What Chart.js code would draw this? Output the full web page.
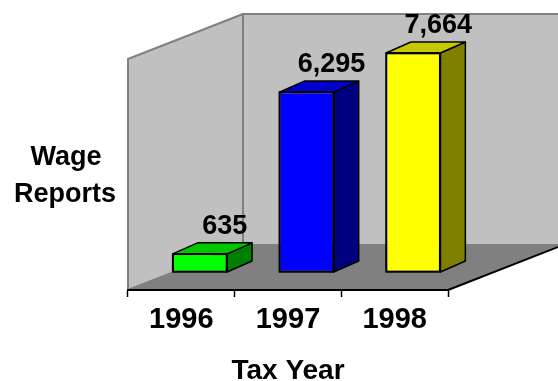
<!DOCTYPE html>
<html>
<head>
<meta charset="utf-8">
<script src="https://cdn.jsdelivr.net/npm/chart.js@4.4.0/dist/chart.umd.min.js"></script>
<style>
    html, body { margin: 0; padding: 0; background: #fff; }
</style>
</head>
<body>
<canvas id="chart" width="558" height="381"></canvas>
<script>
// data
const years = ['1996', '1997', '1998'];
const wageReports = [635, 6295, 7664];
const yTitleLines = ['Wage', 'Reports'];
const xTitle = 'Tax Year';

// face colours per bar
const frontColors = ['#00ff00', '#0000ff', '#ffff00'];
const topColors = ['#00c800', '#0000c8', '#c8c800'];
const sideColors = ['#008000', '#000080', '#808000'];

// fake 3D geometry
const WALL_DX = 115, WALL_DY = -45;   // depth of the box
const BAR_SHIFT = 18.5;               // bars sit a little into the box
const BAR_DX = 25, BAR_DY = -11;      // depth of a bar
const FONT = '"Liberation Sans", Arial, sans-serif';

function poly(ctx, pts) {
    ctx.beginPath();
    ctx.moveTo(pts[0][0], pts[0][1]);
    for (let i = 1; i < pts.length; i++) ctx.lineTo(pts[i][0], pts[i][1]);
    ctx.closePath();
}

const box3d = {
    id: 'box3d',
    beforeDraw(chart) {
        const { ctx, chartArea: a } = chart;
        ctx.save();
        ctx.lineJoin = 'round';
        ctx.lineWidth = 2;
        ctx.strokeStyle = '#808080';
        ctx.fillStyle = '#c0c0c0';
        // back wall
        poly(ctx, [[a.left + WALL_DX, a.top + WALL_DY], [a.right + WALL_DX, a.top + WALL_DY],
            [a.right + WALL_DX, a.bottom + WALL_DY], [a.left + WALL_DX, a.bottom + WALL_DY]]);
        ctx.fill(); ctx.stroke();
        // left wall
        poly(ctx, [[a.left, a.top], [a.left + WALL_DX, a.top + WALL_DY],
            [a.left + WALL_DX, a.bottom + WALL_DY], [a.left, a.bottom]]);
        ctx.fill(); ctx.stroke();
        // floor
        ctx.fillStyle = '#808080';
        poly(ctx, [[a.left, a.bottom], [a.right, a.bottom],
            [a.right + WALL_DX, a.bottom + WALL_DY], [a.left + WALL_DX, a.bottom + WALL_DY]]);
        ctx.fill();
        ctx.strokeStyle = '#000';
        ctx.beginPath();
        ctx.moveTo(a.right, a.bottom);
        ctx.lineTo(a.right + WALL_DX, a.bottom + WALL_DY);
        ctx.stroke();
        ctx.restore();
    },
    beforeDatasetsDraw(chart) {
        chart.ctx.save();
        chart.ctx.translate(BAR_SHIFT, 0);
    },
    afterDatasetsDraw(chart) {
        const ctx = chart.ctx;
        const bars = chart.getDatasetMeta(0).data;
        ctx.lineWidth = 1.5;
        ctx.lineJoin = 'round';
        ctx.strokeStyle = '#000';
        bars.forEach((b, i) => {
            const x0 = b.x - b.width / 2, x1 = b.x + b.width / 2;
            // side face
            ctx.fillStyle = sideColors[i];
            poly(ctx, [[x1, b.y], [x1 + BAR_DX, b.y + BAR_DY], [x1 + BAR_DX, b.base + BAR_DY], [x1, b.base]]);
            ctx.fill(); ctx.stroke();
            // top face
            ctx.fillStyle = topColors[i];
            poly(ctx, [[x0, b.y], [x1, b.y], [x1 + BAR_DX, b.y + BAR_DY], [x0 + BAR_DX, b.y + BAR_DY]]);
            ctx.fill(); ctx.stroke();
            // front outline again so it sits on top
            ctx.strokeRect(x0, b.y, b.width, b.base - b.y);
        });
        // value labels
        ctx.fillStyle = '#000';
        ctx.font = 'bold 27px ' + FONT;
        ctx.textAlign = 'center';
        ctx.textBaseline = 'alphabetic';
        bars.forEach((b, i) => {
            ctx.fillText(wageReports[i].toLocaleString('en-US'), b.x + BAR_DX, b.y + BAR_DY - 9);
        });
        ctx.restore();
    },
    afterDraw(chart) {
        const ctx = chart.ctx;
        ctx.save();
        ctx.fillStyle = '#000';
        ctx.font = 'bold 27px ' + FONT;
        ctx.textAlign = 'center';
        ctx.textBaseline = 'alphabetic';
        ctx.fillText(yTitleLines[0], 66, 165);
        ctx.fillText(yTitleLines[1], 65, 202);
        ctx.restore();
    },
};

new Chart(document.getElementById('chart'), {
    type: 'bar',
    data: {
        labels: years,
        datasets: [{
            data: wageReports,
            backgroundColor: frontColors,
            borderColor: '#000',
            borderWidth: 1.5,
            borderSkipped: false,
            categoryPercentage: 1,
            barPercentage: 0.51,
            clip: false,
        }],
    },
    options: {
        responsive: false,
        animation: false,
        devicePixelRatio: 1,
        layout: { padding: { left: 128, right: 110, top: 59, bottom: 0 } },
        plugins: { legend: { display: false }, tooltip: { enabled: false } },
        scales: {
            x: {
                grid: { display: true, drawOnChartArea: false, drawTicks: true, tickLength: 7, tickColor: '#000', tickWidth: 1.5, offset: true },
                border: { display: true, color: '#000', width: 2 },
                ticks: { color: '#000', padding: 6, maxRotation: 0, font: { family: FONT, size: 29, weight: 'bold' } },
                title: { display: true, text: xTitle, color: '#000', padding: 0, font: { family: FONT, size: 28, weight: 'bold', lineHeight: 0.72 } },
                afterFit: (s) => { s.height = 91; },
            },
            y: { display: false, min: -630, max: 7454 },
        },
    },
    plugins: [box3d],
});
</script>
</body>
</html>
